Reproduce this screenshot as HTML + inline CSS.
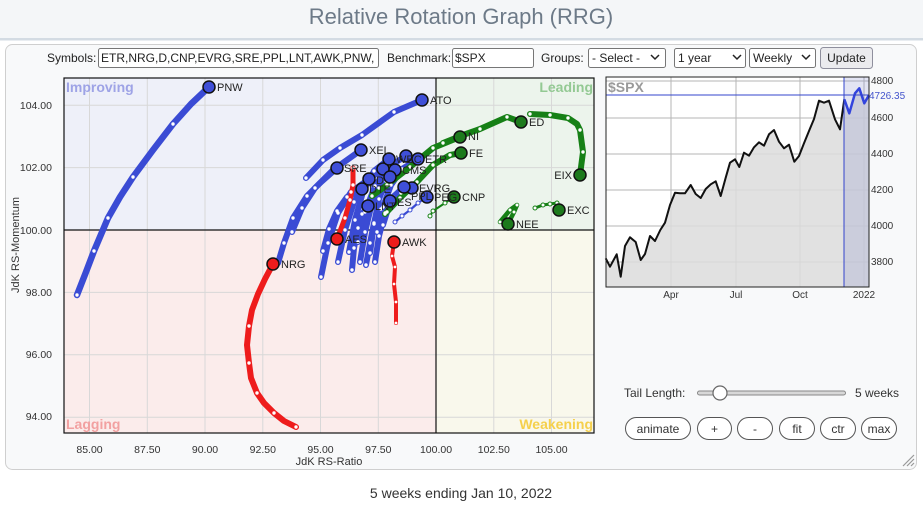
<!DOCTYPE html>
<html><head><meta charset="utf-8"><style>
html,body{margin:0;padding:0;background:#fff;width:923px;height:507px;overflow:hidden}
svg{display:block;font-family:"Liberation Sans",Arial,sans-serif}
</style></head><body>
<svg width="923" height="507" viewBox="0 0 923 507" xmlns="http://www.w3.org/2000/svg">
<!-- title band -->
<rect x="0" y="0" width="923" height="38" fill="#f4f6f8"/>
<rect x="0" y="38" width="923" height="2.5" fill="#d3dbe3"/>
<text x="461" y="24" text-anchor="middle" font-size="22" fill="#6d7a88">Relative Rotation Graph (RRG)</text>
<!-- panel -->
<rect x="5.5" y="44.5" width="911" height="425" rx="7" fill="#f8f9fa" stroke="#cfcfcf"/>
<!-- toolbar -->
<g font-size="12" fill="#222">
<text x="47" y="62">Symbols:</text>
<rect x="98.5" y="48.5" width="280" height="19" rx="2" fill="#fff" stroke="#767676"/>
<text x="101" y="62">ETR,NRG,D,CNP,EVRG,SRE,PPL,LNT,AWK,PNW,</text>
<text x="387" y="62">Benchmark:</text>
<rect x="452.5" y="48.5" width="81" height="19" rx="2" fill="#fff" stroke="#767676"/>
<text x="455" y="62">$SPX</text>
<text x="541" y="62">Groups:</text>
<rect x="588.5" y="48.5" width="77" height="19" rx="2" fill="#fff" stroke="#767676"/>
<text x="592" y="62">- Select -</text>
<polyline points="651,55 655,59 659,55" fill="none" stroke="#222" stroke-width="1.5"/>
<rect x="674.5" y="48.5" width="71" height="19" rx="2" fill="#fff" stroke="#767676"/>
<text x="678" y="62">1 year</text>
<polyline points="733,55 737,59 741,55" fill="none" stroke="#222" stroke-width="1.5"/>
<rect x="749.5" y="48.5" width="66" height="19" rx="2" fill="#fff" stroke="#767676"/>
<text x="753" y="62">Weekly</text>
<polyline points="802,55 806,59 810,55" fill="none" stroke="#222" stroke-width="1.5"/>
<rect x="820.5" y="47.5" width="52" height="21" rx="3" fill="#ebebee" stroke="#8f8f9d"/>
<text x="846.5" y="62" text-anchor="middle">Update</text>
</g>

<!-- main plot quadrants -->
<rect x="64" y="78" width="372" height="152" fill="#eef0f9"/>
<rect x="436" y="78" width="158" height="152" fill="#ecf4ec"/>
<rect x="64" y="230" width="372" height="203" fill="#fbeceb"/>
<rect x="436" y="230" width="158" height="203" fill="#f9f8ec"/>
<g stroke="#d8d8d8" stroke-width="1">
<line x1="89.5" y1="78" x2="89.5" y2="433"/>
<line x1="147.3" y1="78" x2="147.3" y2="433"/>
<line x1="205" y1="78" x2="205" y2="433"/>
<line x1="262.8" y1="78" x2="262.8" y2="433"/>
<line x1="320.5" y1="78" x2="320.5" y2="433"/>
<line x1="378.3" y1="78" x2="378.3" y2="433"/>
<line x1="493.8" y1="78" x2="493.8" y2="433"/>
<line x1="551.5" y1="78" x2="551.5" y2="433"/>
<line x1="64" y1="105.2" x2="594" y2="105.2"/>
<line x1="64" y1="167.6" x2="594" y2="167.6"/>
<line x1="64" y1="292.4" x2="594" y2="292.4"/>
<line x1="64" y1="354.8" x2="594" y2="354.8"/>
<line x1="64" y1="417.2" x2="594" y2="417.2"/>
</g>
<line x1="436" y1="78" x2="436" y2="433" stroke="#111" stroke-width="1.2"/>
<line x1="64" y1="230" x2="594" y2="230" stroke="#111" stroke-width="1.2"/>
<rect x="64" y="78" width="530" height="355" fill="none" stroke="#111" stroke-width="1.2"/>

<g font-size="14" font-weight="bold">
<text x="66" y="92" fill="#9ea3e6">Improving</text>
<text x="593" y="92" fill="#93c993" text-anchor="end">Leading</text>
<text x="66" y="429" fill="#f2a1a1">Lagging</text>
<text x="593" y="429" fill="#f5d04c" text-anchor="end">Weakening</text>
</g>

<!-- axis labels -->
<g font-size="10.5" fill="#333">
<text x="52" y="109" text-anchor="end">104.00</text>
<text x="52" y="171" text-anchor="end">102.00</text>
<text x="52" y="234" text-anchor="end">100.00</text>
<text x="52" y="296" text-anchor="end">98.00</text>
<text x="52" y="358" text-anchor="end">96.00</text>
<text x="52" y="420" text-anchor="end">94.00</text>
<text x="89.5" y="453" text-anchor="middle">85.00</text>
<text x="147.3" y="453" text-anchor="middle">87.50</text>
<text x="205" y="453" text-anchor="middle">90.00</text>
<text x="262.8" y="453" text-anchor="middle">92.50</text>
<text x="320.5" y="453" text-anchor="middle">95.00</text>
<text x="378.3" y="453" text-anchor="middle">97.50</text>
<text x="436" y="453" text-anchor="middle">100.00</text>
<text x="493.8" y="453" text-anchor="middle">102.50</text>
<text x="551.5" y="453" text-anchor="middle">105.00</text>
<text x="329" y="465" text-anchor="middle" font-size="11">JdK RS-Ratio</text>
<text x="0" y="0" text-anchor="middle" font-size="11" transform="translate(19,245) rotate(-90)">JdK RS-Momentum</text>
</g>

<!-- tails -->
<g fill="none" stroke-linecap="round" stroke-linejoin="round">
<g stroke="#3a4bd4" stroke-width="6">
<polyline stroke-width="6.5" points="77,295 86,272 94,251 108,218 120,197 133,177 153,150 173,124 191,104 209,87"/>
<polyline points="306,178 323,160 340,148 362,135 394,112 422,100"/>
<polyline points="292,232 302,208 315,188 333,170 361,150"/>
<polyline points="278,263 284,243 293,218 307,196 320,183 337,168"/>
<polyline points="321,277 328,243 338,213 351,192 369,179"/>
<polyline points="323,251 329,229 337,211 347,197 362,189"/>
<polyline points="338,262 345,230 354,202 366,181 383,169"/>
<polyline points="349,252 355,220 363,192 374,171 389,159"/>
<polyline points="358,242 365,212 375,186 388,167 406,156"/>
<polyline points="370,253 374,224 379,199 386,181 395,170"/>
<polyline points="377,232 383,207 391,185 402,169 418,159"/>
<polyline points="383,225 387,212 393,201 401,193 412,188"/>
<polyline points="360,262 365,232 371,207 379,188 390,177"/>
<polyline points="352,270 354,248 358,228 362,214 368,206"/>
<polyline points="366,265 370,243 374,223 381,209 390,201"/>
<polyline points="375,262 379,236 385,213 393,197 404,187"/>
</g>
<polyline stroke="#3a4bd4" stroke-width="2.2" points="395,222 402,216 410,210 418,203 427,197"/>
<g stroke="#168016" stroke-width="6">
<polyline points="443,143 463,135 480,129 507,117 521,122"/>
<polyline points="530,114 550,115 568,118 577,124 580,130 583,152 580,175"/>
<polyline points="372,196 387,185 410,167 433,148 460,137"/>
<polyline points="385,214 400,198 417,182 433,165 450,155 461,153"/>
<polyline stroke-width="4.5" points="500,222 510,210 517,205 514,212 508,224"/>
</g>
<polyline stroke="#168016" stroke-width="2" points="430,216 433,211 445,203 454,197"/>
<polyline stroke="#168016" stroke-width="3" points="535,208 543,205 550,204 557,203 559,210"/>
<g stroke="#ee1c1c">
<polyline stroke-width="6" points="296,427 284,421 274,413 264,403 257,393 251,378 249,363 247,345 249,326 252,310 258,294 265,279 273,264"/>
<polyline stroke-width="5" points="353,168 353,185 350,200 345,218 337,239"/>
<polyline stroke-width="4" points="396,323 396,302 394,284 395,267 392,256 394,242"/>
</g>
</g>

<!-- dots -->
<g fill="#fff">
<circle cx="77" cy="295" r="1.7"/><circle cx="94" cy="251" r="1.7"/><circle cx="108" cy="218" r="1.7"/><circle cx="133" cy="177" r="1.7"/><circle cx="173" cy="124" r="1.7"/>
<circle cx="306" cy="178" r="1.7"/><circle cx="323" cy="160" r="1.7"/><circle cx="340" cy="148" r="1.7"/><circle cx="362" cy="135" r="1.7"/><circle cx="394" cy="112" r="1.7"/>
<circle cx="292" cy="232" r="1.7"/><circle cx="302" cy="208" r="1.7"/><circle cx="315" cy="188" r="1.7"/><circle cx="333" cy="170" r="1.7"/>
<circle cx="278" cy="263" r="1.7"/><circle cx="284" cy="243" r="1.7"/><circle cx="293" cy="218" r="1.7"/><circle cx="307" cy="196" r="1.7"/>
<circle cx="321" cy="277" r="1.7"/><circle cx="328" cy="243" r="1.7"/><circle cx="338" cy="213" r="1.7"/><circle cx="351" cy="192" r="1.7"/>
<circle cx="323" cy="251" r="1.7"/><circle cx="329" cy="229" r="1.7"/><circle cx="337" cy="211" r="1.7"/><circle cx="347" cy="197" r="1.7"/>
<circle cx="338" cy="262" r="1.7"/><circle cx="345" cy="230" r="1.7"/><circle cx="354" cy="202" r="1.7"/><circle cx="366" cy="181" r="1.7"/>
<circle cx="349" cy="252" r="1.7"/><circle cx="355" cy="220" r="1.7"/><circle cx="363" cy="192" r="1.7"/><circle cx="374" cy="171" r="1.7"/>
<circle cx="358" cy="242" r="1.7"/><circle cx="365" cy="212" r="1.7"/><circle cx="375" cy="186" r="1.7"/><circle cx="388" cy="167" r="1.7"/>
<circle cx="370" cy="253" r="1.7"/><circle cx="374" cy="224" r="1.7"/><circle cx="379" cy="199" r="1.7"/><circle cx="386" cy="181" r="1.7"/>
<circle cx="377" cy="232" r="1.7"/><circle cx="383" cy="207" r="1.7"/><circle cx="391" cy="185" r="1.7"/><circle cx="402" cy="169" r="1.7"/>
<circle cx="383" cy="225" r="1.7"/><circle cx="387" cy="212" r="1.7"/><circle cx="393" cy="201" r="1.7"/><circle cx="401" cy="193" r="1.7"/>
<circle cx="360" cy="262" r="1.7"/><circle cx="365" cy="232" r="1.7"/><circle cx="371" cy="207" r="1.7"/><circle cx="379" cy="188" r="1.7"/>
<circle cx="352" cy="270" r="1.7"/><circle cx="354" cy="248" r="1.7"/><circle cx="358" cy="228" r="1.7"/><circle cx="362" cy="214" r="1.7"/>
<circle cx="366" cy="265" r="1.7"/><circle cx="370" cy="243" r="1.7"/><circle cx="374" cy="223" r="1.7"/><circle cx="381" cy="209" r="1.7"/>
<circle cx="375" cy="262" r="1.7"/><circle cx="379" cy="236" r="1.7"/><circle cx="385" cy="213" r="1.7"/><circle cx="393" cy="197" r="1.7"/>
<circle cx="443" cy="143" r="1.7"/><circle cx="463" cy="135" r="1.7"/><circle cx="480" cy="129" r="1.7"/><circle cx="507" cy="117" r="1.7"/>
<circle cx="530" cy="114" r="1.7"/><circle cx="550" cy="115" r="1.7"/><circle cx="568" cy="118" r="1.7"/><circle cx="580" cy="130" r="1.7"/><circle cx="583" cy="152" r="1.7"/>
<circle cx="372" cy="196" r="1.7"/><circle cx="387" cy="185" r="1.7"/><circle cx="410" cy="167" r="1.7"/><circle cx="433" cy="148" r="1.7"/>
<circle cx="385" cy="214" r="1.7"/><circle cx="400" cy="198" r="1.7"/><circle cx="417" cy="182" r="1.7"/><circle cx="433" cy="165" r="1.7"/><circle cx="450" cy="155" r="1.7"/>
<circle cx="500" cy="222" r="1.5"/><circle cx="510" cy="210" r="1.5"/><circle cx="517" cy="205" r="1.5"/><circle cx="514" cy="212" r="1.5"/>
<circle cx="296" cy="427" r="1.7"/><circle cx="274" cy="413" r="1.7"/><circle cx="257" cy="393" r="1.7"/><circle cx="249" cy="363" r="1.7"/><circle cx="249" cy="326" r="1.7"/>
<circle cx="353" cy="168" r="1.7"/><circle cx="353" cy="185" r="1.7"/><circle cx="350" cy="200" r="1.7"/><circle cx="345" cy="218" r="1.7"/>
<circle cx="396" cy="323" r="1.4"/><circle cx="396" cy="302" r="1.4"/><circle cx="394" cy="284" r="1.4"/><circle cx="395" cy="267" r="1.4"/><circle cx="392" cy="256" r="1.4"/>
</g>
<g fill="#fff" stroke-width="1">
<g stroke="#3a4bd4"><circle cx="395" cy="222" r="2"/><circle cx="402" cy="216" r="2"/><circle cx="410" cy="210" r="2"/><circle cx="418" cy="203" r="2"/></g>
<g stroke="#168016"><circle cx="430" cy="216" r="2"/><circle cx="433" cy="211" r="2"/><circle cx="445" cy="203" r="2"/>
<circle cx="535" cy="208" r="2"/><circle cx="543" cy="205" r="2"/><circle cx="550" cy="204" r="2"/><circle cx="557" cy="203" r="2"/></g>
</g>

<!-- heads -->
<g stroke="#111" stroke-width="1.5">
<g fill="#3f4fd8">
<circle cx="209" cy="87" r="6"/><circle cx="422" cy="100" r="6"/><circle cx="361" cy="150" r="6"/><circle cx="337" cy="168" r="6"/>
<circle cx="369" cy="179" r="6"/><circle cx="362" cy="189" r="6"/><circle cx="383" cy="169" r="6"/><circle cx="389" cy="159" r="6"/>
<circle cx="406" cy="156" r="6"/><circle cx="395" cy="170" r="6"/><circle cx="418" cy="159" r="6"/><circle cx="412" cy="188" r="6"/>
<circle cx="390" cy="177" r="6"/><circle cx="368" cy="206" r="6"/><circle cx="390" cy="201" r="6"/><circle cx="404" cy="187" r="6"/>
<circle cx="427" cy="197" r="6"/>
</g>
<g fill="#1d7a1d">
<circle cx="521" cy="122" r="6"/><circle cx="580" cy="175" r="6"/><circle cx="460" cy="137" r="6"/><circle cx="461" cy="153" r="6"/>
<circle cx="454" cy="197" r="6"/><circle cx="508" cy="224" r="6"/><circle cx="559" cy="210" r="6"/>
</g>
<g fill="#ee1c1c">
<circle cx="273" cy="264" r="6"/><circle cx="337" cy="239" r="6"/><circle cx="394" cy="242" r="6"/>
</g>
</g>

<!-- head labels -->
<g font-size="11" fill="#222">
<text x="217" y="91">PNW</text>
<text x="430" y="104">ATO</text>
<text x="369" y="154">XEL</text>
<text x="344" y="172">SRE</text>
<text x="396" y="163">WEC</text>
<text x="425" y="163">ETR</text>
<text x="402" y="174">CMS</text>
<text x="376" y="184">D</text>
<text x="369" y="193">DTE</text>
<text x="419" y="192">EVRG</text>
<text x="411" y="200">PPL</text>
<text x="434" y="201">PEG</text>
<text x="397" y="206">ES</text>
<text x="375" y="210">LNT</text>
<text x="281" y="268">NRG</text>
<text x="345" y="243">AES</text>
<text x="402" y="246">AWK</text>
<text x="529" y="126">ED</text>
<text x="468" y="140">NI</text>
<text x="469" y="157">FE</text>
<text x="572" y="179" text-anchor="end">EIX</text>
<text x="462" y="201">CNP</text>
<text x="516" y="228">NEE</text>
<text x="567" y="214">EXC</text>
</g>

<!-- SPX chart -->
<rect x="606" y="77" width="263" height="210" fill="#fff"/>
<g stroke="#b5b5b5" stroke-width="1">
<line x1="671" y1="77" x2="671" y2="287"/>
<line x1="736" y1="77" x2="736" y2="287"/>
<line x1="800" y1="77" x2="800" y2="287"/>
<line x1="864" y1="77" x2="864" y2="287"/>
<line x1="606" y1="81" x2="869" y2="81"/>
<line x1="606" y1="118" x2="869" y2="118"/>
<line x1="606" y1="154" x2="869" y2="154"/>
<line x1="606" y1="190" x2="869" y2="190"/>
<line x1="606" y1="226" x2="869" y2="226"/>
<line x1="606" y1="262" x2="869" y2="262"/>
</g>
<polygon fill="#dcdcdc" fill-opacity="0.85" points="605.7,258.3 610,266.7 616.7,254.3 620.7,276.7 625,246 630,237.3 635.7,242 640.7,260 645,254 650,236 655,241 660.3,230 665,222.7 670,205 675,192.7 680,193.3 685,193.3 690.7,185 695.7,194 700.7,198 705.7,189 710.7,184.3 715.7,181.3 720.7,196 725.7,177.7 730,162.7 735,159.3 739.3,167 744,152.7 749,155.7 754,147.3 759,142.3 764,145.7 769,134.3 774,130 779,141.7 784,148.3 789,144.7 794.3,161.7 799,156 804,143.3 809,131 814,119 819,100.7 824,102.7 829,100.7 835,119.3 840,129.3 844.3,99.3 849.3,113.3 855,93.3 859.3,88.3 864.3,103.3 869,95 869,287 606,287"/>
<rect x="844" y="77" width="25" height="210" fill="#8a92d0" fill-opacity="0.25"/>
<polyline fill="none" stroke="#111" stroke-width="2" stroke-linejoin="round" points="605.7,258.3 610,266.7 616.7,254.3 620.7,276.7 625,246 630,237.3 635.7,242 640.7,260 645,254 650,236 655,241 660.3,230 665,222.7 670,205 675,192.7 680,193.3 685,193.3 690.7,185 695.7,194 700.7,198 705.7,189 710.7,184.3 715.7,181.3 720.7,196 725.7,177.7 730,162.7 735,159.3 739.3,167 744,152.7 749,155.7 754,147.3 759,142.3 764,145.7 769,134.3 774,130 779,141.7 784,148.3 789,144.7 794.3,161.7 799,156 804,143.3 809,131 814,119 819,100.7 824,102.7 829,100.7 835,119.3 840,129.3 844.3,99.3"/>
<polyline fill="none" stroke="#3344dd" stroke-width="2.5" stroke-linejoin="round" points="844.3,99.3 849.3,113.3 855,93.3 859.3,88.3 864.3,103.3 869,95"/>
<line x1="606" y1="95" x2="869" y2="95" stroke="#3344cc" stroke-width="1"/>
<line x1="844" y1="77" x2="844" y2="287" stroke="#3344cc" stroke-width="1"/>
<rect x="606" y="77" width="263" height="210" fill="none" stroke="#222" stroke-width="1"/>
<text x="608" y="92" font-size="14" font-weight="bold" fill="#9a9a9a">$SPX</text>
<g font-size="10" fill="#333">
<text x="871" y="84">4800</text>
<text x="871" y="121">4600</text>
<text x="871" y="157">4400</text>
<text x="871" y="193">4200</text>
<text x="871" y="229">4000</text>
<text x="871" y="265">3800</text>
<text x="869" y="99" fill="#4455cc">4726.35</text>
<text x="671" y="298" text-anchor="middle">Apr</text>
<text x="736" y="298" text-anchor="middle">Jul</text>
<text x="800" y="298" text-anchor="middle">Oct</text>
<text x="864" y="298" text-anchor="middle">2022</text>
</g>

<!-- controls -->
<text x="624" y="397" font-size="12" fill="#333">Tail Length:</text>
<rect x="697.5" y="391" width="148" height="4" rx="2" fill="#d8d8d8" stroke="#888" stroke-width="1"/>
<circle cx="720" cy="393" r="7" fill="#fff" stroke="#666" stroke-width="1.2"/>
<text x="855" y="397" font-size="12" fill="#333">5 weeks</text>
<g fill="#fff" stroke="#555" stroke-width="1">
<rect x="625.5" y="417.5" width="65" height="22" rx="11"/>
<rect x="697.5" y="417.5" width="34" height="22" rx="11"/>
<rect x="737.5" y="417.5" width="35" height="22" rx="11"/>
<rect x="779.5" y="417.5" width="35" height="22" rx="11"/>
<rect x="820.5" y="417.5" width="35" height="22" rx="11"/>
<rect x="861.5" y="417.5" width="35" height="22" rx="11"/>
</g>
<g font-size="12" fill="#333" text-anchor="middle">
<text x="658" y="433">animate</text>
<text x="714.5" y="433">+</text>
<text x="755" y="433">-</text>
<text x="797" y="433">fit</text>
<text x="838" y="433">ctr</text>
<text x="879" y="433">max</text>
</g>
<g stroke="#999" stroke-width="1.2">
<line x1="903" y1="466" x2="914" y2="455"/>
<line x1="907" y1="466" x2="914" y2="459"/>
<line x1="911" y1="466" x2="914" y2="463"/>
</g>

<text x="461" y="498" text-anchor="middle" font-size="14" fill="#333">5 weeks ending Jan 10, 2022</text>
</svg>
</body></html>
